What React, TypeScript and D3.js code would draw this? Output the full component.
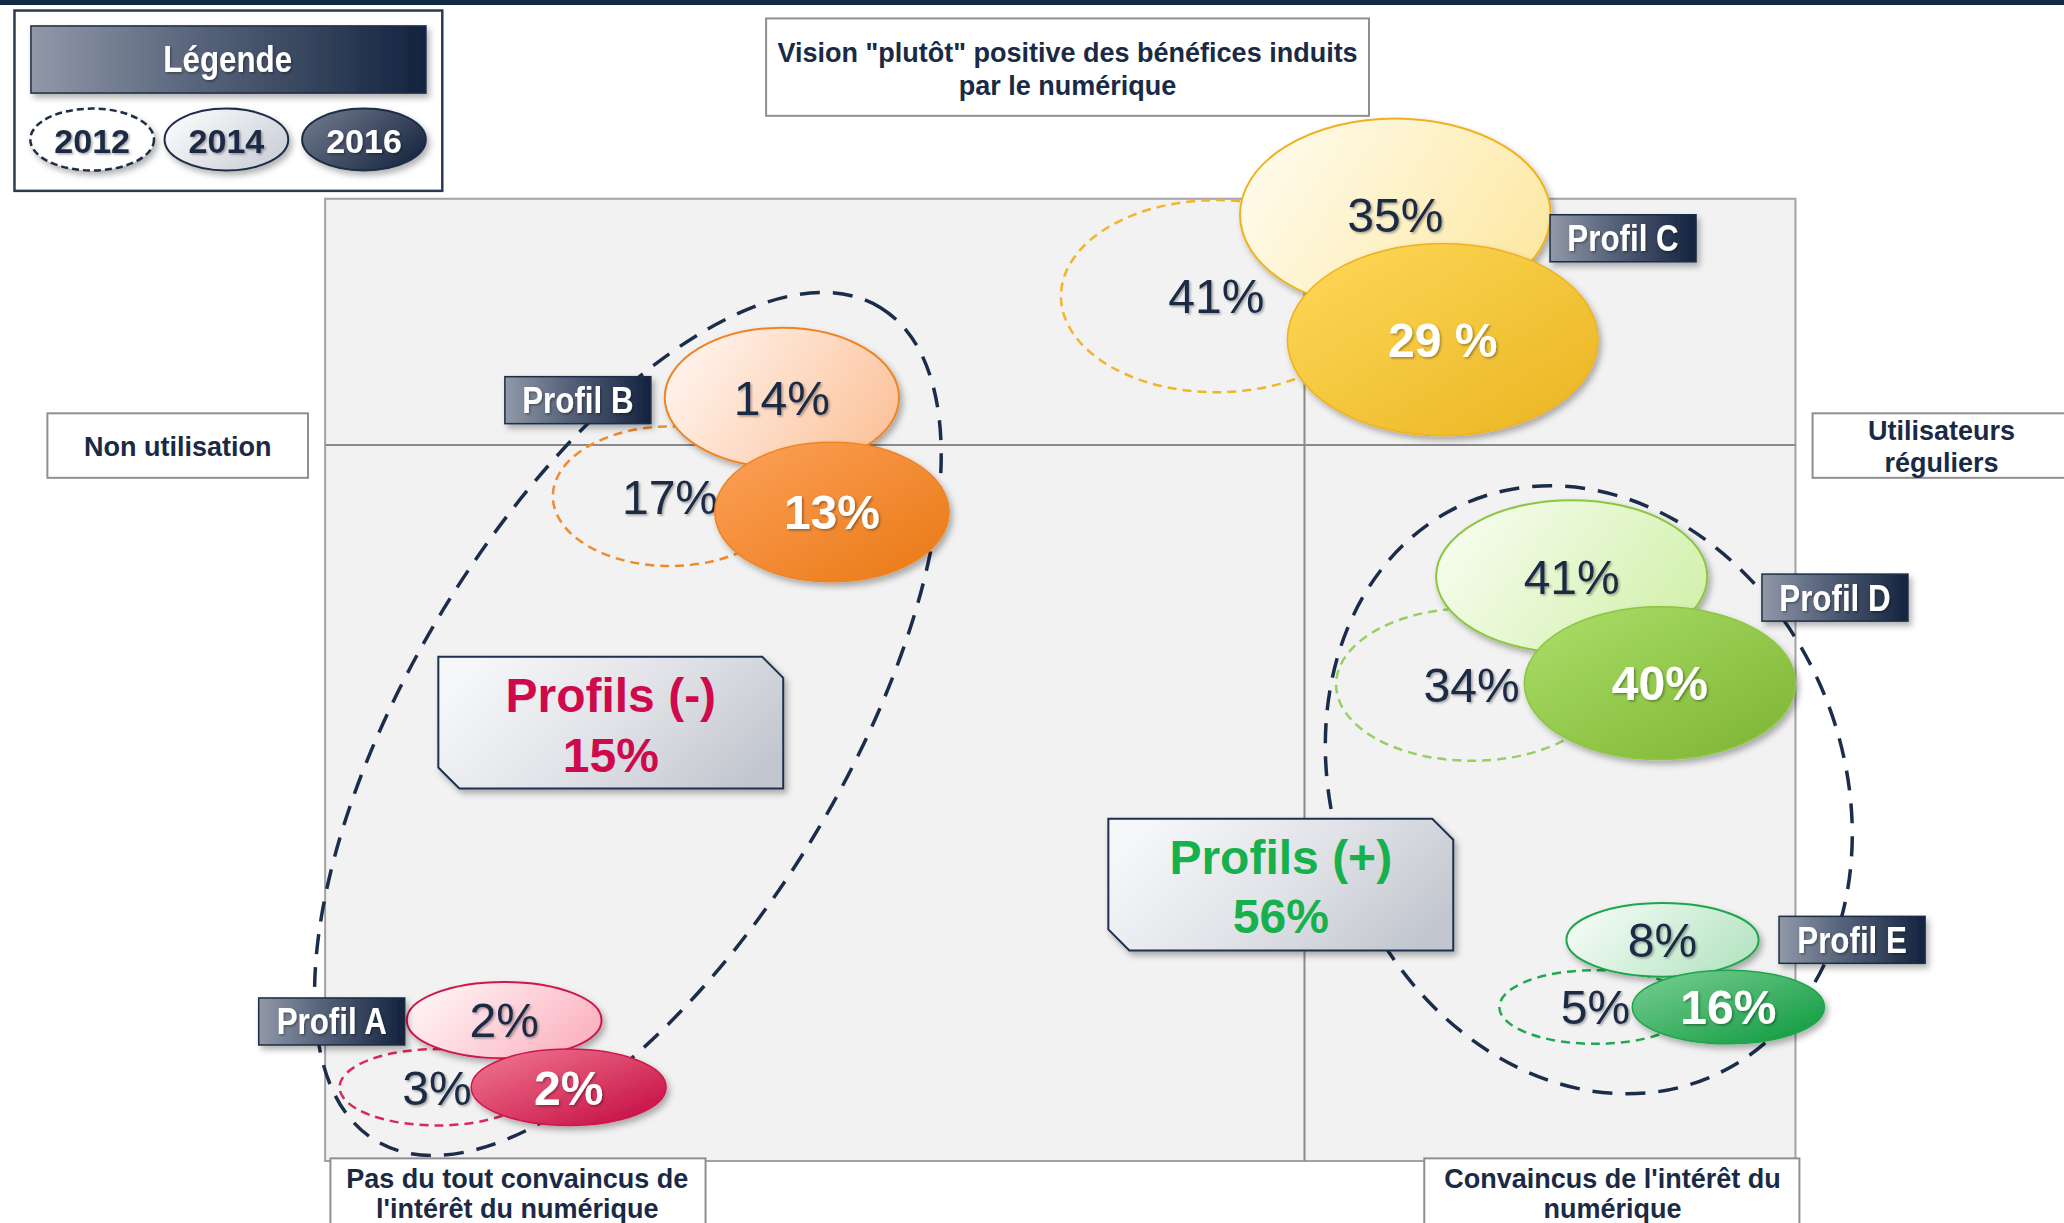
import React from "react";
import * as d3 from "d3";

const W = 2064;
const H = 1223;

// ---- data ----
const profiles = ["Profil A", "Profil B", "Profil C", "Profil D", "Profil E"];
const years = ["2012", "2014", "2016"];
const values2012 = ["3%", "17%", "41%", "34%", "5%"];
const values2014 = ["2%", "14%", "35%", "41%", "8%"];
const values2016 = ["2%", "13%", "29 %", "40%", "16%"];
const groupNames = ["Profils (-)", "Profils (+)"];
const groupValues = ["15%", "56%"];
const legendTitle = "Légende";
const axisTop = ["Vision \"plutôt\" positive des bénéfices induits", "par le numérique"];
const axisLeft = ["Non utilisation"];
const axisRight = ["Utilisateurs", "réguliers"];
const axisBottomLeft = ["Pas du tout convaincus de", "l'intérêt du numérique"];
const axisBottomRight = ["Convaincus de l'intérêt du", "numérique"];

// ---- layout (reference units, 1568 wide) ----
const profileRx = [74, 89, 118, 103, 73];
const profileRy = [29, 53, 73, 58, 28];
const center2012 = [[332, 826], [509, 377], [924, 225], [1118, 520], [1212, 765]];
const center2014 = [[383, 775], [594, 302], [1060, 163], [1194, 438], [1263, 714]];
const center2016 = [[432, 826], [632, 389], [1096, 258], [1261, 519], [1313, 765]];
const labelPos = [[252, 776], [439, 304], [1233, 181], [1394, 454], [1407, 714]];
const groupBoxes = [[333, 499, 595, 599], [842, 622, 1104, 722]];
const groupEllipses = [
  { cx: 477, cy: 550, rx: 370, ry: 165, rot: -58.8 },
  { cx: 1207, cy: 600, rx: 237, ry: 193, rot: 67.3 },
];

// ---- styles ----
const strokeColors = ["#d0174a", "#ef8424", "#efb21f", "#8cc63f", "#1ea64c"];
const dashColors = ["#d62a58", "#f08a2c", "#f2b52a", "#95d060", "#22a850"];
const grad14 = [
  ["#fff5f7", "#fbb1be"],
  ["#fff4ee", "#fcc29a"],
  ["#fffbec", "#fde8a2"],
  ["#f6fdee", "#d2f0ab"],
  ["#f4fbf6", "#b4e4c1"],
];
const grad16 = [
  ["#f27a92", "#c2073f"],
  ["#fda15a", "#e97813"],
  ["#fed95a", "#eab420"],
  ["#abdf6a", "#7db331"],
  ["#7ccf94", "#0a983c"],
];
const groupColors = ["#cf0a4c", "#16b04c"];

const font = "'Liberation Sans', Arial, Helvetica, sans-serif";
const navy = "#1a2a45";

export default function App() {
  React.useEffect(() => {
    document.body.style.margin = "0";
    document.body.style.overflow = "hidden";
  }, []);

  const sx = d3.scaleLinear().domain([0, 1568]).range([0, W]);
  const sy = d3.scaleLinear().domain([0, 929]).range([0, (929 * W) / 1568]);
  const k = W / 1568;

  const boxText = (lines: string[], cx: number, ys: number[], key: string) =>
    lines.map((t, i) => (
      <text
        key={key + i}
        x={sx(cx)}
        y={sy(ys[i])}
        dy="0.36em"
        textAnchor="middle"
        fontSize={27}
        fontWeight="bold"
        fill={navy}
      >
        {t}
      </text>
    ));

  const chamfer = (b: number[]) => {
    const [x0, y0, x1, y1] = [sx(b[0]), sy(b[1]), sx(b[2]), sy(b[3])];
    const c = 21;
    return `M${x0},${y0} L${x1 - c},${y0} L${x1},${y0 + c} L${x1},${y1} L${x0 + c},${y1} L${x0},${y1 - c} Z`;
  };

  const narrowText = (t: string, x: number, y: number, size: number, fill: string, sc = 0.87) => (
    <g transform={`translate(${x},${y}) scale(${sc},1)`}>
      <text x={0} y={0} dy="0.36em" textAnchor="middle" fontSize={size} fontWeight="bold" fill={fill} filter="url(#tsh)">
        {t}
      </text>
    </g>
  );

  return (
    <svg
      width={W}
      height={H}
      viewBox={`0 0 ${W} ${H}`}
      style={{ position: "absolute", left: 0, top: 0, display: "block" }}
      fontFamily={font}
    >
      <defs>
        <filter id="sh" x="-20%" y="-20%" width="150%" height="150%">
          <feDropShadow dx="3" dy="4" stdDeviation="3" floodColor="#000" floodOpacity="0.3" />
        </filter>
        <filter id="tsh" x="-10%" y="-20%" width="130%" height="150%">
          <feDropShadow dx="1.5" dy="1.5" stdDeviation="1.2" floodColor="#000" floodOpacity="0.35" />
        </filter>
        <linearGradient id="navyGrad" x1="0" y1="0" x2="1" y2="0">
          <stop offset="0" stopColor="#9199a8" />
          <stop offset="0.4" stopColor="#5a667d" />
          <stop offset="1" stopColor="#13233e" />
        </linearGradient>
        <linearGradient id="groupGrad" x1="0" y1="0.3" x2="1" y2="0.7">
          <stop offset="0" stopColor="#f6f7f9" />
          <stop offset="0.5" stopColor="#e1e3e8" />
          <stop offset="1" stopColor="#c2c6ce" />
        </linearGradient>
        <linearGradient id="leg14" x1="0" y1="0.2" x2="1" y2="0.8">
          <stop offset="0" stopColor="#fbfbfc" />
          <stop offset="1" stopColor="#c9ced6" />
        </linearGradient>
        <linearGradient id="leg16" x1="0" y1="0.2" x2="1" y2="0.8">
          <stop offset="0" stopColor="#6e778b" />
          <stop offset="1" stopColor="#16253f" />
        </linearGradient>
        {profiles.map((p, i) => (
          <linearGradient key={"g14" + i} id={"g14_" + i} x1="0" y1="0.3" x2="1" y2="0.7">
            <stop offset="0" stopColor={grad14[i][0]} />
            <stop offset="1" stopColor={grad14[i][1]} />
          </linearGradient>
        ))}
        {profiles.map((p, i) => (
          <linearGradient key={"g16" + i} id={"g16_" + i} x1="0" y1="0" x2="1" y2="1">
            <stop offset="0" stopColor={grad16[i][0]} />
            <stop offset="1" stopColor={grad16[i][1]} />
          </linearGradient>
        ))}
      </defs>

      <rect x={0} y={0} width={W} height={H} fill="#ffffff" />
      <rect x={0} y={0} width={W} height={5} fill="#132a47" />

      {/* plot area */}
      <rect
        x={sx(247)}
        y={sy(151)}
        width={sx(1364) - sx(247)}
        height={sy(882) - sy(151)}
        fill="#f2f2f2"
        stroke="#a2a2a2"
        strokeWidth={2}
      />
      <line x1={sx(247)} x2={sx(1364)} y1={sy(338)} y2={sy(338)} stroke="#8a8a8a" strokeWidth={2} />
      <line x1={sx(991)} x2={sx(991)} y1={sy(151)} y2={sy(882)} stroke="#8a8a8a" strokeWidth={2} />

      {/* axis boxes */}
      <rect x={sx(582)} y={sy(14)} width={sx(1040) - sx(582)} height={sy(88) - sy(14)} fill="#fff" stroke="#8f8f8f" strokeWidth={2} />
      {boxText(axisTop, 811, [40, 65], "t")}
      <rect x={sx(36)} y={sy(314)} width={sx(234) - sx(36)} height={sy(363) - sy(314)} fill="#fff" stroke="#8f8f8f" strokeWidth={2} />
      {boxText(axisLeft, 135, [339], "l")}
      <rect x={sx(1377)} y={sy(314)} width={sx(1580) - sx(1377)} height={sy(363) - sy(314)} fill="#fff" stroke="#8f8f8f" strokeWidth={2} />
      {boxText(axisRight, 1475, [327, 351], "r")}

      {/* group dashed ellipses */}
      {groupEllipses.map((g, i) => (
        <ellipse
          key={"ge" + i}
          cx={0}
          cy={0}
          rx={g.rx * k}
          ry={g.ry * k}
          transform={`translate(${sx(g.cx)},${sy(g.cy)}) rotate(${g.rot})`}
          fill="none"
          stroke="#1b2d4b"
          strokeWidth={3.5}
          strokeDasharray="20 13"
        />
      ))}

      {/* group boxes */}
      {groupBoxes.map((b, i) => (
        <g key={"gb" + i}>
          <path d={chamfer(b)} fill="url(#groupGrad)" stroke="#1e3150" strokeWidth={2} filter="url(#sh)" />
          <text
            x={sx((b[0] + b[2]) / 2)}
            y={sy(b[1] + 29)}
            dy="0.36em"
            textAnchor="middle"
            fontSize={48}
            fontWeight="bold"
            fill={groupColors[i]}
          >
            {groupNames[i]}
          </text>
          <text
            x={sx((b[0] + b[2]) / 2)}
            y={sy(b[1] + 74)}
            dy="0.36em"
            textAnchor="middle"
            fontSize={48}
            fontWeight="bold"
            fill={groupColors[i]}
          >
            {groupValues[i]}
          </text>
        </g>
      ))}

      {/* profiles */}
      {profiles.map((p, i) => {
        const rx = profileRx[i] * k;
        const ry = profileRy[i] * k;
        const [c12x, c12y] = center2012[i];
        const [c14x, c14y] = center2014[i];
        const [c16x, c16y] = center2016[i];
        const [lx, ly] = labelPos[i];
        return (
          <g key={"p" + i}>
            <ellipse cx={sx(c12x)} cy={sy(c12y)} rx={rx} ry={ry} fill="none" stroke={dashColors[i]} strokeWidth={2.5} strokeDasharray="9 6" />
            <text x={sx(c12x)} y={sy(c12y)} dy="0.36em" textAnchor="middle" fontSize={48} fill={navy} filter="url(#tsh)">
              {values2012[i]}
            </text>
            <ellipse cx={sx(c14x)} cy={sy(c14y)} rx={rx} ry={ry} fill={`url(#g14_${i})`} stroke={strokeColors[i]} strokeWidth={2} filter="url(#sh)" />
            <text x={sx(c14x)} y={sy(c14y)} dy="0.36em" textAnchor="middle" fontSize={48} fill={navy} filter="url(#tsh)">
              {values2014[i]}
            </text>
            <ellipse cx={sx(c16x)} cy={sy(c16y)} rx={rx} ry={ry} fill={`url(#g16_${i})`} stroke={strokeColors[i]} strokeWidth={1.5} filter="url(#sh)" />
            <text x={sx(c16x)} y={sy(c16y)} dy="0.36em" textAnchor="middle" fontSize={48} fontWeight="bold" fill="#ffffff" filter="url(#tsh)">
              {values2016[i]}
            </text>
            <rect
              x={sx(lx) - 73}
              y={sy(ly) - 23.5}
              width={146}
              height={47}
              fill="url(#navyGrad)"
              stroke="#1d2d47"
              strokeWidth={1.5}
              filter="url(#sh)"
            />
            {narrowText(p, sx(lx), sy(ly), 36, "#ffffff")}
          </g>
        );
      })}

      {/* bottom axis boxes */}
      <rect x={sx(251)} y={sy(880)} width={sx(536) - sx(251)} height={80} fill="#fff" stroke="#8f8f8f" strokeWidth={2} />
      {boxText(axisBottomLeft, 393, [895, 918], "bl")}
      <rect x={sx(1082)} y={sy(880)} width={sx(1367) - sx(1082)} height={80} fill="#fff" stroke="#8f8f8f" strokeWidth={2} />
      {boxText(axisBottomRight, 1225, [895, 918], "br")}

      {/* legend */}
      <rect x={sx(11)} y={sy(8)} width={sx(336) - sx(11)} height={sy(145) - sy(8)} fill="#fff" stroke="#2b3a52" strokeWidth={2.5} />
      <rect
        x={sx(23.5)}
        y={sy(19.7)}
        width={sx(323.6) - sx(23.5)}
        height={sy(70.7) - sy(19.7)}
        fill="url(#navyGrad)"
        stroke="#1d2d47"
        strokeWidth={1.5}
        filter="url(#sh)"
      />
      {narrowText(legendTitle, sx(173), sy(45), 36, "#ffffff")}
      {years.map((yr, j) => {
        const cx = [70, 172, 276.5][j];
        const fill = j === 0 ? "#ffffff" : j === 1 ? "url(#leg14)" : "url(#leg16)";
        return (
          <g key={"ly" + j}>
            <ellipse
              cx={sx(cx)}
              cy={sy(106)}
              rx={47 * k}
              ry={23.5 * k}
              fill={fill}
              stroke="#1d2d47"
              strokeWidth={j === 0 ? 2.5 : 2}
              strokeDasharray={j === 0 ? "7 4" : undefined}
              filter="url(#sh)"
            />
            {narrowText(yr, sx(cx), sy(107), 34, j === 2 ? "#ffffff" : navy, 1.0)}
          </g>
        );
      })}
    </svg>
  );
}
